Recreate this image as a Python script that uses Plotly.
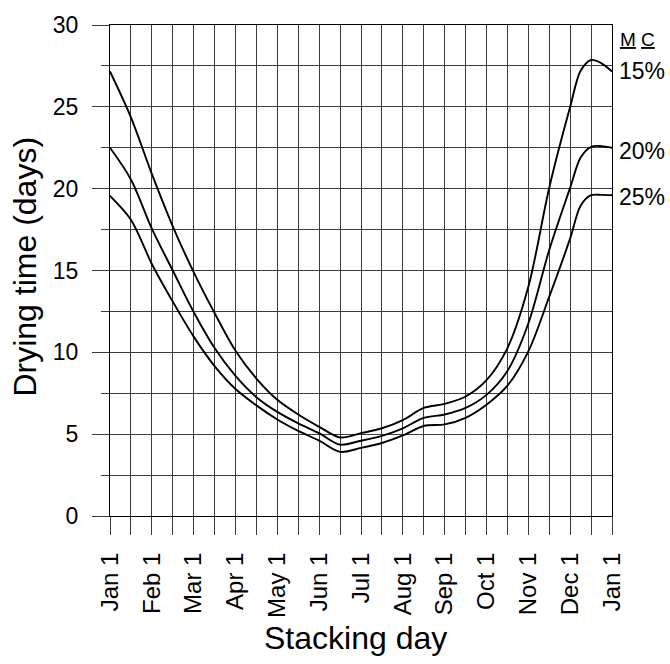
import plotly.graph_objects as go

# Half-month positions (0 = Jan 1, 12 = Jan 1 next year)
months = [0, 0.5, 1, 1.5, 2, 2.5, 3, 3.5, 4, 4.5, 5, 5.5, 6, 6.5, 7, 7.5,
          8, 8.5, 9, 9.5, 10, 10.5, 11, 11.25, 11.5, 11.75, 12]

mc15 = [27.16, 24.36, 20.9, 17.7, 14.9, 12.4, 10.1, 8.4, 7.1, 6.2, 5.45,
        4.8, 5.06, 5.36, 5.86, 6.6, 6.85, 7.3, 8.3, 10.26, 14.0, 20.06, 25.0,
        27.2, 27.86, 27.66, 27.16]
mc20 = [22.5, 20.56, 17.56, 15.0, 12.46, 10.26, 8.56, 7.26, 6.36, 5.66, 5.06,
        4.36, 4.6, 4.9, 5.36, 6.0, 6.2, 6.6, 7.4, 8.86, 11.76, 16.26, 20.06,
        21.9, 22.56, 22.6, 22.5]
mc25 = [19.56, 18.1, 15.4, 13.1, 10.96, 9.16, 7.76, 6.76, 5.9, 5.2, 4.6,
        3.92, 4.16, 4.46, 4.92, 5.5, 5.6, 6.0, 6.8, 7.96, 10.06, 13.4, 16.96,
        18.96, 19.6, 19.62, 19.6]

tick_vals = list(range(13))
tick_labels = ["Jan 1", "Feb 1", "Mar 1", "Apr 1", "May 1", "Jun 1", "Jul 1",
               "Aug 1", "Sep 1", "Oct 1", "Nov 1", "Dec 1", "Jan 1"]

series_names = ["15%", "20%", "25%"]
series = [mc15, mc20, mc25]
label_y = [27.16, 22.3, 19.5]

FONT = "Liberation Sans, Arial, sans-serif"
GRID = "#3c3c3c"

fig = go.Figure()
for name, vals in zip(series_names, series):
    fig.add_trace(go.Scatter(
        x=months, y=vals, mode="lines", name=name,
        line=dict(color="black", width=1.9, shape="spline", smoothing=0.9),
        showlegend=False, hoverinfo="skip"))

annotations = []
for name, y in zip(series_names, label_y):
    annotations.append(dict(x=12, y=y, xref="x", yref="y", text=name,
                            showarrow=False, xanchor="left", yanchor="middle",
                            xshift=5, font=dict(family=FONT, size=23, color="black")))
annotations.append(dict(x=12, y=29.1, xref="x", yref="y", text="<u>M</u> <u>C</u>",
                        showarrow=False, xanchor="left", yanchor="middle",
                        xshift=6, font=dict(family=FONT, size=19, color="black")))
annotations.append(dict(x=(355 - 110) / 502, y=(516 - 640) / 500, xref="paper", yref="paper",
                        text="Stacking day", showarrow=False, xanchor="center", yanchor="middle",
                        font=dict(family=FONT, size=32, color="black")))
annotations.append(dict(x=(25 - 110) / 502, y=(516 - 262) / 500, xref="paper", yref="paper",
                        text="Drying time (days)", showarrow=False, textangle=-90,
                        xanchor="center", yanchor="middle",
                        font=dict(family=FONT, size=32, color="black")))

fig.update_layout(
    width=670, height=664,
    margin=dict(l=110, r=58, t=16, b=148),
    paper_bgcolor="white", plot_bgcolor="white",
    annotations=annotations,
    xaxis=dict(
        range=[0, 12], tickmode="array", tickvals=tick_vals, ticktext=tick_labels,
        tickangle=-90, ticks="outside", ticklen=18, tickcolor=GRID, tickwidth=1,
        ticklabelstandoff=8,
        showgrid=True, gridcolor=GRID, gridwidth=1,
        showline=True, linecolor="black", linewidth=1, mirror=True,
        zeroline=False,
        tickfont=dict(family=FONT, size=24, color="black"),
        minor=dict(tickmode="linear", tick0=0, dtick=0.5, ticks="outside", ticklen=18,
                   tickcolor=GRID, showgrid=True, gridcolor=GRID, gridwidth=1),
    ),
    yaxis=dict(
        range=[0, 30], tickmode="linear", tick0=0, dtick=5,
        ticks="outside", ticklen=17, tickcolor=GRID, tickwidth=1,
        ticklabelstandoff=9,
        showgrid=True, gridcolor=GRID, gridwidth=1,
        showline=True, linecolor="black", linewidth=1, mirror=True,
        zeroline=False,
        tickfont=dict(family=FONT, size=23, color="black"),
        minor=dict(tickmode="linear", tick0=0, dtick=2.5, ticks="outside", ticklen=8,
                   tickcolor=GRID, showgrid=True, gridcolor=GRID, gridwidth=1),
    ),
)

fig.write_html(
    "out.html",
    config={"displayModeBar": False, "staticPlot": True},
    post_script="document.body.style.margin='0';document.documentElement.style.overflow='hidden';",
)
